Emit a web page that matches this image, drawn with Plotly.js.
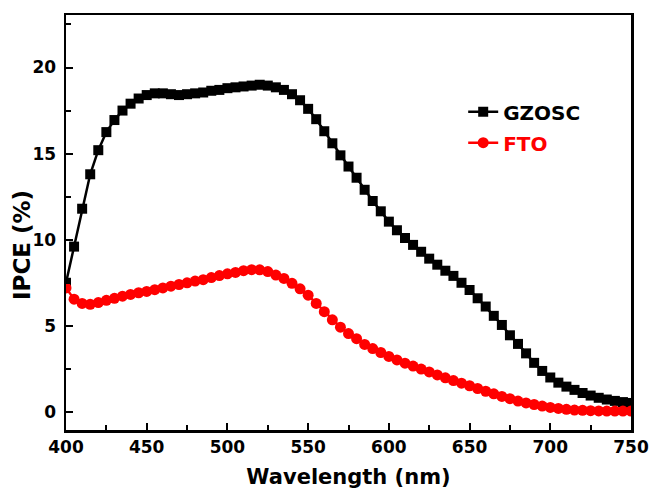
<!DOCTYPE html>
<html>
<head>
<meta charset="utf-8">
<script src="https://cdn.plot.ly/plotly-3.0.1.min.js"></script>
<style>html,body{margin:0;padding:0;background:#fff;}#chart{width:649px;height:491px;}</style>
</head>
<body>
<div id="chart"></div>
<script>
const wavelength = [400,405,410,415,420,425,430,435,440,445,450,455,460,465,470,475,480,485,490,495,500,505,510,515,520,525,530,535,540,545,550,555,560,565,570,575,580,585,590,595,600,605,610,615,620,625,630,635,640,645,650,655,660,665,670,675,680,685,690,695,700,705,710,715,720,725,730,735,740,745,750];
const gzosc = [7.5,9.6,11.8,13.8,15.2,16.25,16.95,17.5,17.9,18.2,18.4,18.5,18.5,18.45,18.4,18.45,18.5,18.55,18.65,18.7,18.8,18.85,18.9,18.95,19.0,18.95,18.85,18.7,18.45,18.1,17.6,17.0,16.3,15.6,14.9,14.25,13.6,12.9,12.25,11.65,11.05,10.55,10.1,9.7,9.3,8.9,8.55,8.2,7.9,7.5,7.08,6.6,6.12,5.58,5.05,4.45,3.95,3.4,2.85,2.38,2.0,1.7,1.47,1.28,1.1,0.95,0.82,0.72,0.64,0.57,0.52];
const fto = [7.2,6.55,6.3,6.25,6.35,6.48,6.6,6.72,6.82,6.92,7.0,7.1,7.2,7.3,7.4,7.5,7.6,7.68,7.8,7.92,8.02,8.1,8.2,8.26,8.25,8.15,7.95,7.75,7.47,7.15,6.78,6.3,5.82,5.35,4.92,4.55,4.25,3.92,3.68,3.45,3.22,3.02,2.83,2.66,2.49,2.32,2.15,1.98,1.82,1.67,1.52,1.36,1.2,1.05,0.9,0.77,0.63,0.52,0.43,0.34,0.26,0.2,0.15,0.11,0.09,0.07,0.06,0.05,0.05,0.05,0.05];
const xTicks = [400,450,500,550,600,650,700,750];
const yTicks = [0,5,10,15,20];

const fontFam = '"DejaVu Sans", sans-serif';

const traces = [
  {x: wavelength, y: gzosc, type: 'scatter', mode: 'lines+markers', name: '<b>GZOSC</b>', legendgroup: 'a',
   line: {color: '#000000', width: 2.5}, marker: {symbol: 'square', size: 10, color: '#000000'}},
  {x: wavelength, y: fto, type: 'scatter', mode: 'lines+markers', name: '<b><span style="color:#ff0000">FTO</span></b>', legendgroup: 'b',
   line: {color: '#ff0000', width: 2.5}, marker: {symbol: 'circle', size: 11, color: '#ff0000'}}
];

const axisCommon = {
  showline: true, linecolor: '#000', linewidth: 2.5, mirror: true,
  ticks: 'inside', ticklen: 7, tickwidth: 2, tickcolor: '#000',
  showgrid: false, zeroline: false, ticklabeloverflow: 'allow',
  tickfont: {family: fontFam, size: 17, color: '#000', weight: 'bold'}
};

const layout = {
  width: 649, height: 491,
  margin: {l: 66, r: 18, t: 15, b: 61},
  paper_bgcolor: '#fff', plot_bgcolor: '#fff',
  showlegend: true,
  legend: {x: 0.703, y: 0.814, xanchor: 'left', yanchor: 'top', bgcolor: 'rgba(0,0,0,0)',
           font: {family: fontFam, size: 20, color: '#000'}, tracegroupgap: 2},
  xaxis: Object.assign({}, axisCommon, {
    range: [400, 750], tickvals: xTicks, ticktext: xTicks.map(String),
    minor: {dtick: 25, tick0: 400, ticks: 'inside', ticklen: 5, tickwidth: 2, tickcolor: '#000'},
    title: {text: '<b>Wavelength (nm)</b>', font: {family: fontFam, size: 21, color: '#000'}, standoff: 14}
  }),
  yaxis: Object.assign({}, axisCommon, {
    range: [-1.05, 23.05], tickvals: yTicks, ticktext: yTicks.map(String), ticklabelstandoff: 4,
    minor: {dtick: 2.5, tick0: 0, ticks: 'inside', ticklen: 5, tickwidth: 2, tickcolor: '#000'}
  }),
  annotations: [
    {text: '<b>IPCE (%)</b>', textangle: -90, xref: 'paper', yref: 'paper', x: -0.0777, y: 0.446,
     xanchor: 'center', yanchor: 'middle', showarrow: false,
     font: {family: fontFam, size: 23, color: '#000'}}
  ]
};

Plotly.newPlot('chart', traces, layout, {displayModeBar: false, staticPlot: true});
</script>
</body>
</html>
